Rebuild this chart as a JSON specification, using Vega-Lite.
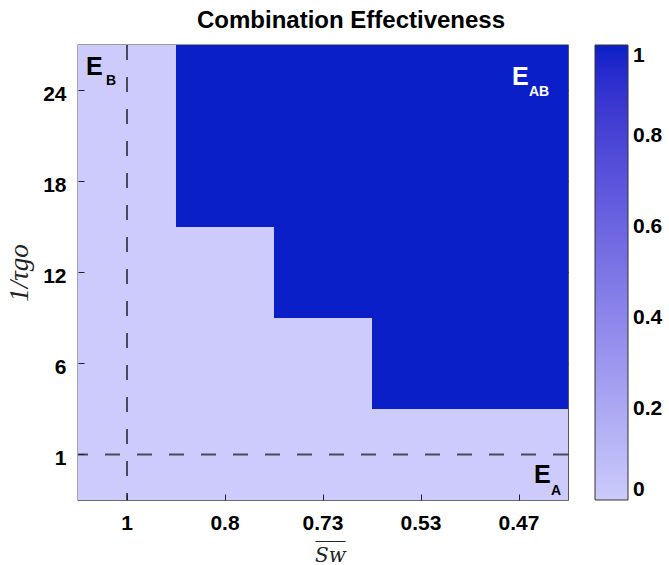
{
  "$schema": "https://vega.github.io/schema/vega-lite/v6.json",
  "width": 490,
  "height": 455,
  "autosize": "none",
  "padding": {"left": 78, "top": 45, "right": 101, "bottom": 65},
  "background": "white",
  "config": {
    "view": {"stroke": "#3a3a3a", "strokeWidth": 1.3},
    "font": "Liberation Sans"
  },
  "title": {
    "text": "Combination Effectiveness",
    "font": "Liberation Sans",
    "fontSize": 24,
    "fontWeight": "bold",
    "color": "#000",
    "anchor": "middle",
    "dx": 28,
    "offset": 11
  },
  "datasets": {
    "cells": [
      {"sw": "1", "tau": "24", "v": 0}, {"sw": "0.8", "tau": "24", "v": 1}, {"sw": "0.73", "tau": "24", "v": 1}, {"sw": "0.53", "tau": "24", "v": 1}, {"sw": "0.47", "tau": "24", "v": 1},
      {"sw": "1", "tau": "18", "v": 0}, {"sw": "0.8", "tau": "18", "v": 1}, {"sw": "0.73", "tau": "18", "v": 1}, {"sw": "0.53", "tau": "18", "v": 1}, {"sw": "0.47", "tau": "18", "v": 1},
      {"sw": "1", "tau": "12", "v": 0}, {"sw": "0.8", "tau": "12", "v": 0}, {"sw": "0.73", "tau": "12", "v": 1}, {"sw": "0.53", "tau": "12", "v": 1}, {"sw": "0.47", "tau": "12", "v": 1},
      {"sw": "1", "tau": "6", "v": 0}, {"sw": "0.8", "tau": "6", "v": 0}, {"sw": "0.73", "tau": "6", "v": 0}, {"sw": "0.53", "tau": "6", "v": 1}, {"sw": "0.47", "tau": "6", "v": 1},
      {"sw": "1", "tau": "1", "v": 0}, {"sw": "0.8", "tau": "1", "v": 0}, {"sw": "0.73", "tau": "1", "v": 0}, {"sw": "0.53", "tau": "1", "v": 0}, {"sw": "0.47", "tau": "1", "v": 0}
    ]
  },
  "layer": [
    {
      "data": {"name": "cells"},
      "mark": {"type": "rect"},
      "encoding": {
        "x": {
          "field": "sw", "type": "ordinal",
          "scale": {"domain": ["1", "0.8", "0.73", "0.53", "0.47"], "paddingInner": 0, "paddingOuter": 0},
          "axis": {
            "orient": "bottom", "domain": false, "ticks": true, "tickSize": -6, "tickColor": "#222", "tickWidth": 1,
            "labelPadding": 18, "labelFont": "Liberation Sans", "labelFontSize": 21, "labelFontWeight": "bold", "labelColor": "#000", "labelAngle": 0,
            "title": ["‾‾‾", "Sᴡ"], "titleFont": "DejaVu Serif", "titleFontStyle": "italic", "titleFontWeight": "normal", "titleFontSize": 20, "titleColor": "#222", "titlePadding": 7, "titleLineHeight": 5, "titleX": 252
          }
        },
        "y": {
          "field": "tau", "type": "ordinal",
          "scale": {"domain": ["24", "18", "12", "6", "1"], "paddingInner": 0, "paddingOuter": 0},
          "axis": {
            "orient": "left", "domain": false, "ticks": true, "tickSize": -6, "tickColor": "#222", "tickWidth": 1,
            "labelPadding": 18, "labelOffset": 4, "labelFont": "Liberation Sans", "labelFontSize": 21, "labelFontWeight": "bold", "labelColor": "#000",
            "title": "1/τgo", "titleFont": "Liberation Serif", "titleFontStyle": "italic", "titleFontWeight": "normal", "titleFontSize": 27, "titleColor": "#222", "titlePadding": 9
          }
        },
        "color": {
          "field": "v", "type": "quantitative",
          "scale": {"domain": [0, 1], "range": ["#cccbfb", "#0b1fc8"]},
          "legend": {
            "orient": "none", "legendX": 517, "legendY": 0, "direction": "vertical",
            "title": null, "gradientLength": 455, "gradientThickness": 33,
            "gradientStrokeColor": "#333", "gradientStrokeWidth": 1,
            "values": [0, 0.2, 0.4, 0.6, 0.8, 1], "format": "~g",
            "labelFont": "Liberation Sans", "labelFontSize": 21, "labelFontWeight": "bold", "labelColor": "#000",
            "labelOffset": 5, "labelBaseline": "middle", "labelOverlap": false
          }
        }
      }
    },
    {
      "data": {"values": [{"sw": "1"}]},
      "mark": {"type": "rule", "strokeDash": [15, 17], "color": "#4a4a5a", "strokeWidth": 2},
      "encoding": {
        "x": {
          "field": "sw", "type": "ordinal",
          "scale": {"domain": ["1", "0.8", "0.73", "0.53", "0.47"]},
          "axis": {"orient": "top", "domain": false, "labels": false, "ticks": true, "tickSize": -6, "tickColor": "#222", "title": null}
        }
      }
    },
    {
      "data": {"values": [{"tau": "1"}]},
      "mark": {"type": "rule", "strokeDash": [15, 17], "color": "#4a4a5a", "strokeWidth": 2},
      "encoding": {
        "y": {
          "field": "tau", "type": "ordinal",
          "scale": {"domain": ["24", "18", "12", "6", "1"]},
          "axis": {"orient": "right", "domain": false, "labels": false, "ticks": true, "tickSize": -6, "tickColor": "#222", "title": null}
        }
      }
    },
    {
      "data": {"values": [{"sw": "1", "tau": "24", "t": "E"}]},
      "mark": {"type": "text", "align": "left", "baseline": "alphabetic", "dx": -41, "dy": -15.5, "font": "Liberation Sans", "fontWeight": "bold", "fontSize": 25, "color": "#000"},
      "encoding": {
        "x": {"field": "sw", "type": "ordinal", "axis": null},
        "y": {"field": "tau", "type": "ordinal", "axis": null},
        "text": {"field": "t"}
      }
    },
    {
      "data": {"values": [{"sw": "1", "tau": "24", "t": "B"}]},
      "mark": {"type": "text", "align": "left", "baseline": "alphabetic", "dx": -21, "dy": -5.5, "font": "Liberation Sans", "fontWeight": "bold", "fontSize": 14, "color": "#000"},
      "encoding": {
        "x": {"field": "sw", "type": "ordinal", "axis": null},
        "y": {"field": "tau", "type": "ordinal", "axis": null},
        "text": {"field": "t"}
      }
    },
    {
      "data": {"values": [{"sw": "0.47", "tau": "24", "t": "E"}]},
      "mark": {"type": "text", "align": "left", "baseline": "alphabetic", "dx": -7, "dy": -5.5, "font": "Liberation Sans", "fontWeight": "bold", "fontSize": 25, "color": "#fff"},
      "encoding": {
        "x": {"field": "sw", "type": "ordinal", "axis": null},
        "y": {"field": "tau", "type": "ordinal", "axis": null},
        "text": {"field": "t"}
      }
    },
    {
      "data": {"values": [{"sw": "0.47", "tau": "24", "t": "AB"}]},
      "mark": {"type": "text", "align": "left", "baseline": "alphabetic", "dx": 10, "dy": 5.5, "font": "Liberation Sans", "fontWeight": "bold", "fontSize": 14, "color": "#fff"},
      "encoding": {
        "x": {"field": "sw", "type": "ordinal", "axis": null},
        "y": {"field": "tau", "type": "ordinal", "axis": null},
        "text": {"field": "t"}
      }
    },
    {
      "data": {"values": [{"sw": "0.47", "tau": "1", "t": "E"}]},
      "mark": {"type": "text", "align": "left", "baseline": "alphabetic", "dx": 15, "dy": 28.5, "font": "Liberation Sans", "fontWeight": "bold", "fontSize": 25, "color": "#000"},
      "encoding": {
        "x": {"field": "sw", "type": "ordinal", "axis": null},
        "y": {"field": "tau", "type": "ordinal", "axis": null},
        "text": {"field": "t"}
      }
    },
    {
      "data": {"values": [{"sw": "0.47", "tau": "1", "t": "A"}]},
      "mark": {"type": "text", "align": "left", "baseline": "alphabetic", "dx": 32, "dy": 40.5, "font": "Liberation Sans", "fontWeight": "bold", "fontSize": 14, "color": "#000"},
      "encoding": {
        "x": {"field": "sw", "type": "ordinal", "axis": null},
        "y": {"field": "tau", "type": "ordinal", "axis": null},
        "text": {"field": "t"}
      }
    }
  ],
  "resolve": {"axis": {"x": "independent", "y": "independent"}}
}
